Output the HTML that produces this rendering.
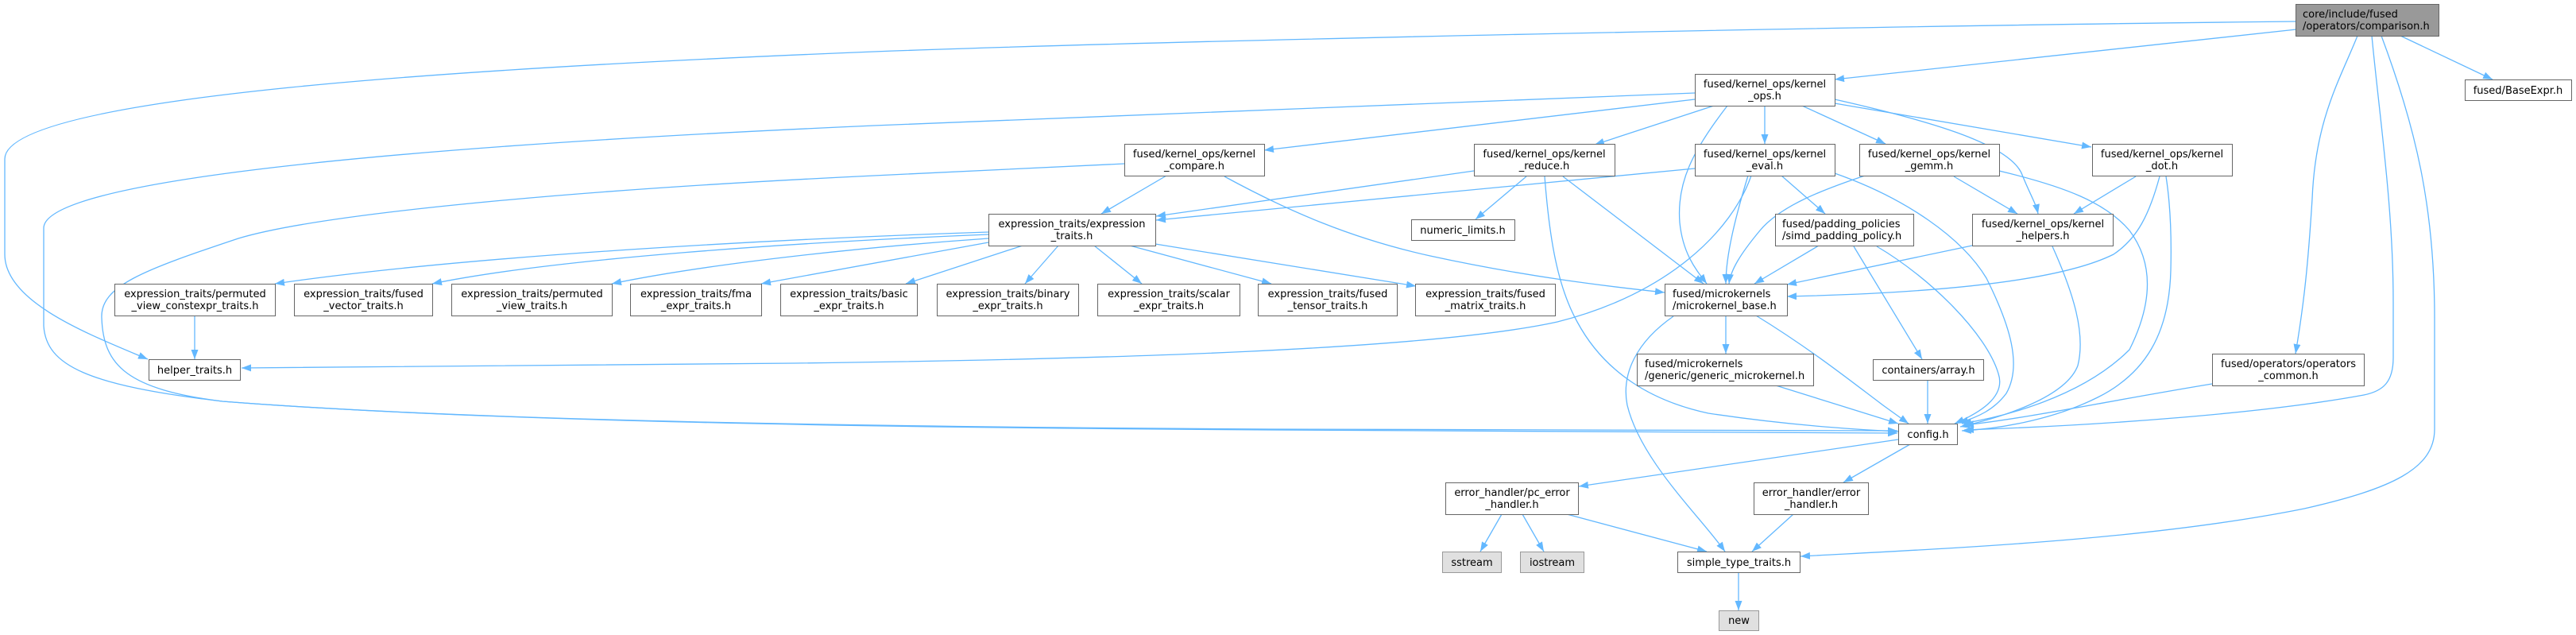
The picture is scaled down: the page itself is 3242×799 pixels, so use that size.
<!DOCTYPE html>
<html><head><meta charset="utf-8">
<style>
html,body{margin:0;padding:0;background:#fff;}
svg{display:block;}
text{font-family:"DejaVu Sans","Liberation Sans",sans-serif;font-size:13px;fill:#000;}
.n{fill:#fff;stroke:#666;stroke-width:1;}
.g{fill:#e0e0e0;stroke:#999;stroke-width:1;}
.r{fill:#999;stroke:#666;stroke-width:1;}
.e{fill:none;stroke:#63b8ff;stroke-width:1.3;marker-end:url(#a);}
.c{text-anchor:middle;}
</style></head>
<body>
<svg width="3242" height="799" viewBox="0 0 3242 799" xmlns="http://www.w3.org/2000/svg">
<defs>
<marker id="a" viewBox="0 0 12 9" refX="12" refY="4.5" markerWidth="12" markerHeight="9" markerUnits="userSpaceOnUse" orient="auto" preserveAspectRatio="none">
<path d="M0,0 L12,4.5 L0,9 Z" fill="#63b8ff"/>
</marker>
</defs>

<!-- edges -->
<path class="e" d="M2890,37 L2309,100"/>
<path class="e" d="M2890,27 C2400,32 1500,50 1100,65 C600,85 6,120 6,200 L6,320 C6,380 110,420 186,452"/>
<path class="e" d="M3021,45 L3137,100"/>
<path class="e" d="M2967,45 C2945,100 2914,150 2910,250 C2905,330 2900,380 2889,445"/>
<path class="e" d="M2985,45 C2995,150 3012,260 3012,380 L3012,450 C3012,480 3000,492 2975,497 C2850,520 2650,535 2472,541"/>
<path class="e" d="M2997,45 C3040,160 3064,260 3064,400 L3064,540 C3064,590 3010,615 2900,640 C2700,680 2450,690 2266,700"/>
<path class="e" d="M2133,117 L1100,158 C600,180 55,220 55,287 L55,410 C58,460 110,485 280,505 C600,530 1100,538 1600,541 L2388,545"/>
<path class="e" d="M1415,206 L1100,221 C700,240 400,270 300,300 C180,340 126,360 128,400 C130,460 160,490 280,505 C600,530 1100,537 1600,540 L2388,542"/>
<path class="e" d="M2133,125 L1591,189"/>
<path class="e" d="M2157,133 L2007,182"/>
<path class="e" d="M2174,133 C2130,190 2110,230 2114,280 C2118,320 2135,340 2148,357"/>
<path class="e" d="M2221,133 L2221,181"/>
<path class="e" d="M2268,133 L2373,181"/>
<path class="e" d="M2309,125 C2420,150 2530,180 2545,220 C2555,245 2562,255 2565,269"/>
<path class="e" d="M2309,130 L2632,185"/>
<path class="e" d="M1468,221 L1386,269"/>
<path class="e" d="M1541,222 C1620,265 1700,300 1800,322 C1920,348 2020,360 2095,368"/>
<path class="e" d="M1855,215 L1455,272"/>
<path class="e" d="M2133,212 L1455,277"/>
<path class="e" d="M1921,222 L1857,276"/>
<path class="e" d="M1967,222 L2144,357"/>
<path class="e" d="M1944,222 C1950,300 1960,360 1985,405 C2020,470 2080,505 2150,520 C2250,535 2330,540 2389,543"/>
<path class="e" d="M2204,221 C2180,290 2100,370 1960,405 C1800,440 1400,452 1000,457 L304,463"/>
<path class="e" d="M2200,221 C2185,270 2172,320 2172,357"/>
<path class="e" d="M2242,221 L2297,269"/>
<path class="e" d="M2309,218 C2400,250 2470,300 2500,350 C2530,410 2545,460 2525,495 C2510,515 2490,525 2465,532"/>
<path class="e" d="M2347,221 C2290,240 2240,260 2215,290 C2190,320 2178,340 2176,357"/>
<path class="e" d="M2459,222 L2539,269"/>
<path class="e" d="M2516,215 C2600,235 2650,255 2680,290 C2710,330 2710,380 2680,440 C2620,500 2520,525 2469,533"/>
<path class="e" d="M2688,222 L2610,269"/>
<path class="e" d="M2726,222 C2732,260 2733,300 2732,340 C2730,420 2700,470 2640,500 C2580,530 2510,540 2469,542"/>
<path class="e" d="M2718,222 C2705,270 2690,300 2660,320 C2580,360 2380,370 2249,373"/>
<path class="e" d="M2482,309 L2249,358"/>
<path class="e" d="M2583,310 C2610,370 2625,420 2615,460 C2600,500 2520,525 2467,537"/>
<path class="e" d="M2289,309 L2208,357"/>
<path class="e" d="M2333,310 L2419,452"/>
<path class="e" d="M2362,310 C2430,350 2500,420 2515,470 C2525,500 2490,520 2460,533"/>
<path class="e" d="M2426,478 L2426,533"/>
<path class="e" d="M2784,483 C2650,505 2560,525 2472,535"/>
<path class="e" d="M2210,397 C2280,440 2330,480 2370,510 L2402,533"/>
<path class="e" d="M2172,397 L2172,445"/>
<path class="e" d="M2106,398 C2060,430 2040,470 2048,510 C2065,580 2140,650 2171,694"/>
<path class="e" d="M2235,485 L2389,533"/>
<path class="e" d="M2389,553 L1987,612"/>
<path class="e" d="M2404,559 L2320,607"/>
<path class="e" d="M1890,647 L1863,694"/>
<path class="e" d="M1916,647 L1943,694"/>
<path class="e" d="M1972,647 L2148,694"/>
<path class="e" d="M2257,647 L2205,694"/>
<path class="e" d="M2188,720 L2188,768"/>
<path class="e" d="M1244,292 C1000,300 600,320 346,357"/>
<path class="e" d="M1244,295 C1000,305 700,325 544,357"/>
<path class="e" d="M1244,300 C1100,310 900,330 770,357"/>
<path class="e" d="M1244,305 L958,357"/>
<path class="e" d="M1287,309 L1140,357"/>
<path class="e" d="M1332,309 L1290,357"/>
<path class="e" d="M1377,309 L1437,357"/>
<path class="e" d="M1422,309 L1600,357"/>
<path class="e" d="M1454,307 L1782,360"/>
<path class="e" d="M245,397 L245,452"/>

<!-- nodes -->
<rect class="r" x="2889.5" y="5.5" width="180" height="40"/>
<text x="2898" y="22">core/include/fused</text>
<text x="2898" y="37">/operators/comparison.h</text>

<rect class="n" x="2133.5" y="93.5" width="176" height="40"/>
<text class="c" x="2221" y="110">fused/kernel_ops/kernel</text>
<text class="c" x="2221" y="125">_ops.h</text>

<rect class="n" x="3102.5" y="100.5" width="134" height="26"/>
<text class="c" x="3169" y="118">fused/BaseExpr.h</text>

<rect class="n" x="1415.5" y="181.5" width="176" height="40"/>
<text class="c" x="1503" y="198">fused/kernel_ops/kernel</text>
<text class="c" x="1503" y="213">_compare.h</text>

<rect class="n" x="1855.5" y="181.5" width="177" height="40"/>
<text class="c" x="1943.5" y="198">fused/kernel_ops/kernel</text>
<text class="c" x="1943.5" y="213">_reduce.h</text>

<rect class="n" x="2133.5" y="181.5" width="176" height="40"/>
<text class="c" x="2221" y="198">fused/kernel_ops/kernel</text>
<text class="c" x="2221" y="213">_eval.h</text>

<rect class="n" x="2340.5" y="181.5" width="176" height="40"/>
<text class="c" x="2428" y="198">fused/kernel_ops/kernel</text>
<text class="c" x="2428" y="213">_gemm.h</text>

<rect class="n" x="2633.5" y="181.5" width="176" height="40"/>
<text class="c" x="2721" y="198">fused/kernel_ops/kernel</text>
<text class="c" x="2721" y="213">_dot.h</text>

<rect class="n" x="1244.5" y="269.5" width="210" height="40"/>
<text class="c" x="1349" y="286">expression_traits/expression</text>
<text class="c" x="1349" y="301">_traits.h</text>

<rect class="n" x="1776.5" y="276.5" width="130" height="26"/>
<text class="c" x="1841" y="294">numeric_limits.h</text>

<rect class="n" x="2234.5" y="269.5" width="174" height="40"/>
<text x="2243" y="286">fused/padding_policies</text>
<text x="2243" y="301">/simd_padding_policy.h</text>

<rect class="n" x="2482.5" y="269.5" width="177" height="40"/>
<text class="c" x="2571" y="286">fused/kernel_ops/kernel</text>
<text class="c" x="2571" y="301">_helpers.h</text>

<rect class="n" x="144.5" y="357.5" width="202" height="40"/>
<text class="c" x="245.5" y="374">expression_traits/permuted</text>
<text class="c" x="245.5" y="389">_view_constexpr_traits.h</text>

<rect class="n" x="370.5" y="357.5" width="174" height="40"/>
<text class="c" x="457.5" y="374">expression_traits/fused</text>
<text class="c" x="457.5" y="389">_vector_traits.h</text>

<rect class="n" x="568.5" y="357.5" width="202" height="40"/>
<text class="c" x="669.5" y="374">expression_traits/permuted</text>
<text class="c" x="669.5" y="389">_view_traits.h</text>

<rect class="n" x="793.5" y="357.5" width="165" height="40"/>
<text class="c" x="876" y="374">expression_traits/fma</text>
<text class="c" x="876" y="389">_expr_traits.h</text>

<rect class="n" x="982.5" y="357.5" width="172" height="40"/>
<text class="c" x="1068.5" y="374">expression_traits/basic</text>
<text class="c" x="1068.5" y="389">_expr_traits.h</text>

<rect class="n" x="1179.5" y="357.5" width="178" height="40"/>
<text class="c" x="1268.5" y="374">expression_traits/binary</text>
<text class="c" x="1268.5" y="389">_expr_traits.h</text>

<rect class="n" x="1381.5" y="357.5" width="179" height="40"/>
<text class="c" x="1471" y="374">expression_traits/scalar</text>
<text class="c" x="1471" y="389">_expr_traits.h</text>

<rect class="n" x="1583.5" y="357.5" width="175" height="40"/>
<text class="c" x="1671" y="374">expression_traits/fused</text>
<text class="c" x="1671" y="389">_tensor_traits.h</text>

<rect class="n" x="1781.5" y="357.5" width="176" height="40"/>
<text class="c" x="1869.5" y="374">expression_traits/fused</text>
<text class="c" x="1869.5" y="389">_matrix_traits.h</text>

<rect class="n" x="2095.5" y="357.5" width="154" height="40"/>
<text x="2105" y="374">fused/microkernels</text>
<text x="2105" y="389">/microkernel_base.h</text>

<rect class="n" x="187.5" y="452.5" width="115" height="26"/>
<text class="c" x="245" y="470">helper_traits.h</text>

<rect class="n" x="2060.5" y="445.5" width="222" height="40"/>
<text x="2070" y="462">fused/microkernels</text>
<text x="2070" y="477">/generic/generic_microkernel.h</text>

<rect class="n" x="2357.5" y="452.5" width="139" height="26"/>
<text class="c" x="2427" y="470">containers/array.h</text>

<rect class="n" x="2784.5" y="445.5" width="191" height="40"/>
<text class="c" x="2880" y="462">fused/operators/operators</text>
<text class="c" x="2880" y="477">_common.h</text>

<rect class="n" x="2389.5" y="533.5" width="74" height="26"/>
<text class="c" x="2426.5" y="551">config.h</text>

<rect class="n" x="1819.5" y="607.5" width="167" height="40"/>
<text class="c" x="1903" y="624">error_handler/pc_error</text>
<text class="c" x="1903" y="639">_handler.h</text>

<rect class="n" x="2207.5" y="607.5" width="144" height="40"/>
<text class="c" x="2279.5" y="624">error_handler/error</text>
<text class="c" x="2279.5" y="639">_handler.h</text>

<rect class="g" x="1815.5" y="694.5" width="74" height="26"/>
<text class="c" x="1852.5" y="712">sstream</text>

<rect class="g" x="1913.5" y="694.5" width="80" height="26"/>
<text class="c" x="1953.5" y="712">iostream</text>

<rect class="n" x="2111.5" y="694.5" width="154" height="26"/>
<text class="c" x="2188.5" y="712">simple_type_traits.h</text>

<rect class="g" x="2163.5" y="768.5" width="50" height="25"/>
<text class="c" x="2188.5" y="785">new</text>
</svg>
</body></html>
